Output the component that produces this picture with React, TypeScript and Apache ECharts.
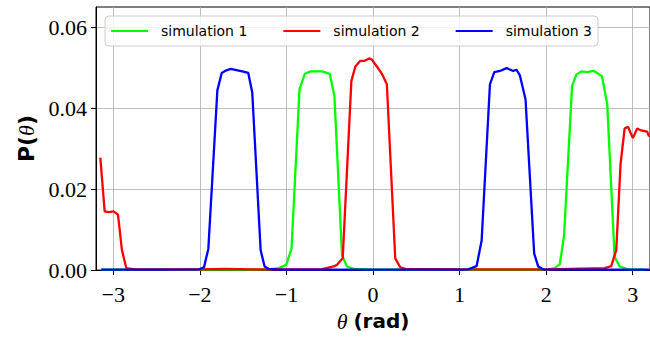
import React, { useEffect, useRef } from 'react';
import * as echarts from 'echarts';

const seriesNames = ['simulation 1', 'simulation 2', 'simulation 3'];
const seriesColors = ['#00ff00', '#ff0000', '#0000ff'];

const xTicks = [-3, -2, -1, 0, 1, 2, 3];
const yTicks = [0, 0.02, 0.04, 0.06];

// simulation 1 (green): [theta, P]
const sim1: [number, number][] = [
  [-3.14, 0.0001], [-2.0, 0.0001], [-1.5, 0.0001], [-1.2, 0.0002], [-1.088, 0.0005],
  [-1.003, 0.0013], [-0.941, 0.0053], [-0.849, 0.0447], [-0.788, 0.0485], [-0.722, 0.0491],
  [-0.589, 0.0491], [-0.5, 0.0485], [-0.446, 0.0431], [-0.358, 0.0037], [-0.301, 0.0009],
  [-0.224, 0.0003], [0.0, 0.0001], [1.0, 0.0001], [1.9, 0.0001], [2.023, 0.0002],
  [2.1, 0.0005], [2.158, 0.0015], [2.207, 0.0085], [2.3, 0.0455], [2.349, 0.0483],
  [2.407, 0.0491], [2.476, 0.0489], [2.515, 0.0491], [2.553, 0.0492], [2.645, 0.0479],
  [2.706, 0.041], [2.791, 0.0033], [2.849, 0.0009], [2.945, 0.0002], [3.14, 0.0001],
];

// simulation 2 (red)
const sim2: [number, number][] = [
  [-3.15, 0.0278], [-3.1, 0.0145], [-3.054, 0.0143], [-2.997, 0.0145], [-2.946, 0.0137],
  [-2.9, 0.0049], [-2.85, 0.0005], [-2.75, 0.0002], [-2.0, 0.0002], [-1.7, 0.0003],
  [-1.4, 0.0002], [-0.6, 0.0002], [-0.454, 0.0009], [-0.416, 0.0013], [-0.35, 0.0029],
  [-0.25, 0.0467], [-0.204, 0.0503], [-0.146, 0.0517], [-0.097, 0.0517], [-0.043, 0.0523],
  [-0.013, 0.052], [0.045, 0.0503], [0.103, 0.0485], [0.16, 0.0459], [0.257, 0.0029],
  [0.315, 0.0007], [0.372, 0.0003], [1.0, 0.0002], [1.5, 0.0002], [2.0, 0.0002],
  [2.676, 0.0005], [2.752, 0.001], [2.81, 0.0049], [2.86, 0.0262], [2.907, 0.035],
  [2.945, 0.0354], [3.002, 0.0326], [3.052, 0.035], [3.098, 0.0345], [3.167, 0.0342],
  [3.19, 0.033],
];

// simulation 3 (blue)
const sim3: [number, number][] = [
  [-3.14, 0.0001], [-2.5, 0.0001], [-2.009, 0.0002], [-1.952, 0.0007], [-1.902, 0.0053],
  [-1.798, 0.0444], [-1.748, 0.0487], [-1.7, 0.0493], [-1.644, 0.0497], [-1.51, 0.0491],
  [-1.441, 0.0487], [-1.395, 0.0439], [-1.298, 0.0049], [-1.252, 0.0009], [-1.203, 0.0003],
  [-1.1, 0.0001], [0.0, 0.0001], [1.0, 0.0001], [1.1, 0.0002], [1.197, 0.001],
  [1.255, 0.0073], [1.351, 0.0459], [1.401, 0.0489], [1.467, 0.0492], [1.543, 0.0499],
  [1.62, 0.0492], [1.658, 0.0495], [1.697, 0.0481], [1.762, 0.0422], [1.862, 0.0041],
  [1.908, 0.0009], [1.965, 0.0002], [2.5, 0.0001], [3.19, 0.0001],
];

const seriesData = [sim1, sim2, sim3];

export default function App() {
  const ref = useRef<HTMLDivElement>(null);
  useEffect(() => {
    if (!ref.current) return;
    const chart = echarts.init(ref.current, undefined, { renderer: 'svg' });
    const serif = '"Liberation Serif", "DejaVu Serif", serif';
    const sans = '"DejaVu Sans", sans-serif';
    chart.setOption({
      animation: false,
      textStyle: { fontFamily: serif },
      grid: {
        left: 96, top: 7, width: 556, height: 270,
        show: true, borderColor: '#000', borderWidth: 1, backgroundColor: 'transparent',
      },
      legend: {
        data: seriesNames.map((n) => ({ name: n, icon: 'rect' })),
        left: 105, top: 16,
        padding: [7, 6, 7, 6],
        itemWidth: 37, itemHeight: 2.2, itemGap: 36,
        backgroundColor: 'rgba(255,255,255,0.8)',
        borderColor: '#cccccc', borderWidth: 1, borderRadius: 4,
        textStyle: { fontFamily: sans, fontSize: 14, color: '#000', padding: [0, 0, 0, 8], lineHeight: 16 },
      },
      xAxis: {
        type: 'value', min: -3.2, max: 3.2,
        axisLine: { show: true, onZero: false, lineStyle: { color: '#000', width: 1 } },
        axisTick: { show: true, length: 5, inside: false, customValues: xTicks, lineStyle: { color: '#000' } },
        axisLabel: {
          customValues: xTicks, margin: 13, fontSize: 22, fontFamily: serif, color: '#000',
          formatter: (v: number) => (v < 0 ? '\u2212' + Math.abs(v) : String(v)),
        },
        splitLine: { show: true, lineStyle: { color: '#b0b0b0', width: 0.8 } },
        name: '{t|θ}  {b|(rad)}',
        nameLocation: 'middle', nameGap: 36,
        nameTextStyle: {
          rich: {
            t: { fontFamily: serif, fontStyle: 'italic', fontSize: 22, color: '#000' },
            b: { fontFamily: sans, fontWeight: 'bold', fontSize: 20, color: '#000' },
          },
        },
      },
      yAxis: {
        type: 'value', min: 0, max: 0.065,
        axisLine: { show: true, onZero: false, lineStyle: { color: '#000', width: 1 } },
        axisTick: { show: true, length: 5, inside: false, customValues: yTicks, lineStyle: { color: '#000' } },
        axisLabel: {
          customValues: yTicks, margin: 9, fontSize: 22, fontFamily: serif, color: '#000',
          formatter: (v: number) => v.toFixed(2),
        },
        splitLine: { show: true, lineStyle: { color: '#b0b0b0', width: 0.8 } },
        name: '{b|P(}{t|θ}{b|)}',
        nameLocation: 'middle', nameGap: 59,
        nameTextStyle: {
          rich: {
            t: { fontFamily: serif, fontStyle: 'italic', fontSize: 22, color: '#000' },
            b: { fontFamily: sans, fontWeight: 'bold', fontSize: 22, color: '#000' },
          },
        },
      },
      series: seriesData.map((d, i) => ({
        name: seriesNames[i],
        type: 'line',
        data: d,
        showSymbol: false,
        symbol: 'none',
        clip: true,
        color: seriesColors[i],
        lineStyle: { color: seriesColors[i], width: 2.3 },
      })),
    });
    return () => chart.dispose();
  }, []);
  return <div ref={ref} style={{ position: 'absolute', left: 0, top: 0, width: 650, height: 337 }} />;
}
